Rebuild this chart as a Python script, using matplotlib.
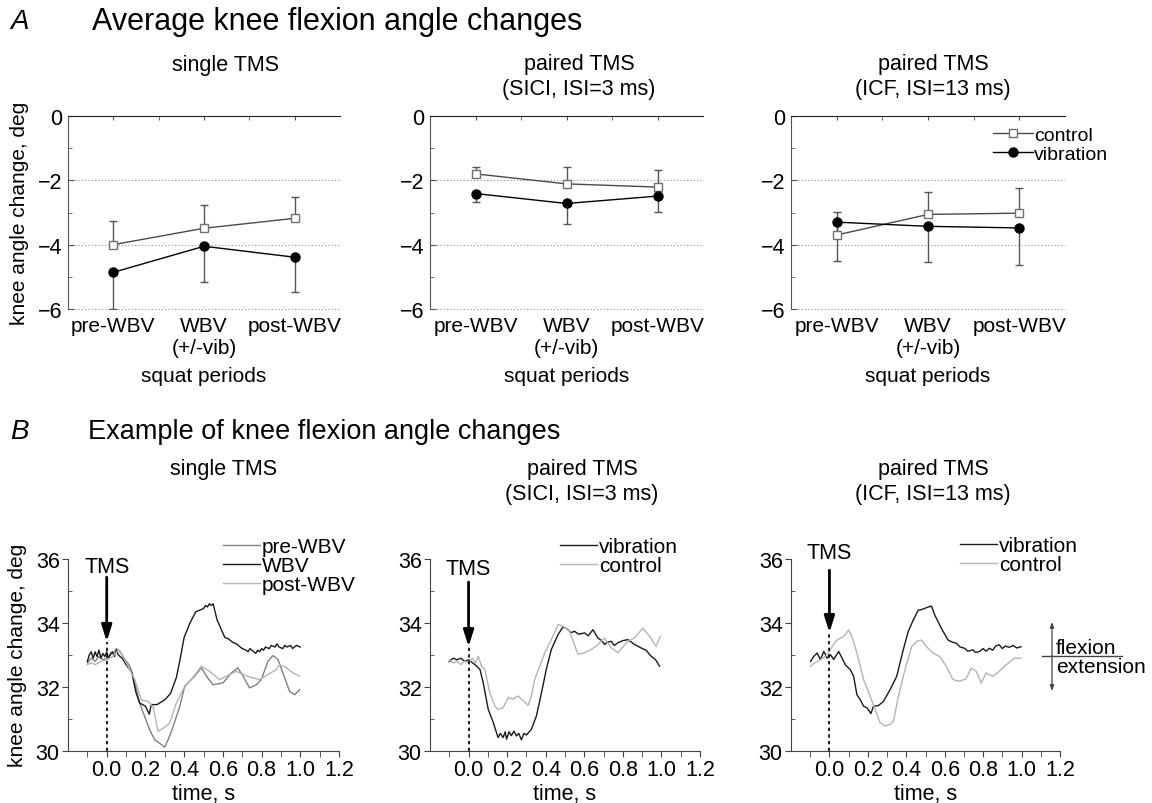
import numpy as np
import matplotlib
matplotlib.use('Agg')
import matplotlib.pyplot as plt
from matplotlib.lines import Line2D
from matplotlib.ticker import FormatStrFormatter

plt.rcParams['font.family'] = ['Liberation Sans', 'DejaVu Sans']
plt.rcParams['axes.unicode_minus'] = True

# ---------------- data: panel A (means and one-sided SD) ----------------
periods = ['pre-WBV', 'WBV\n(+/-vib)', 'post-WBV']
a_titles = ['single TMS', 'paired TMS\n(SICI, ISI=3 ms)', 'paired TMS\n(ICF, ISI=13 ms)']

single_ctrl = [-4.00, -3.49, -3.18]
single_ctrl_err = [0.75, 0.71, 0.65]
single_vib = [-4.86, -4.05, -4.39]
single_vib_err = [1.14, 1.12, 1.07]

sici_ctrl = [-1.80, -2.11, -2.21]
sici_ctrl_err = [0.23, 0.51, 0.52]
sici_vib = [-2.41, -2.72, -2.49]
sici_vib_err = [0.25, 0.65, 0.48]

icf_ctrl = [-3.70, -3.06, -3.02]
icf_ctrl_err = [0.72, 0.69, 0.78]
icf_vib = [-3.30, -3.43, -3.48]
icf_vib_err = [1.20, 1.12, 1.15]

# ---------------- data: panel B (example traces, time s / angle deg) ----------------
b1_pre = np.array([
    (-0.10, 32.75), (-0.08, 32.9), (-0.06, 32.8), (-0.04, 32.95), (-0.02, 32.85), (0.00, 32.9),
    (0.02, 33.0), (0.04, 33.1), (0.05, 33.2), (0.07, 33.1), (0.09, 32.9), (0.12, 32.65),
    (0.145, 32.13), (0.17, 31.5), (0.196, 31.08), (0.222, 30.66), (0.248, 30.35), (0.274, 30.24),
    (0.299, 30.12), (0.317, 30.35), (0.343, 30.76), (0.377, 31.39), (0.403, 32.02), (0.429, 32.18),
    (0.454, 32.34), (0.489, 32.6), (0.515, 32.34), (0.549, 32.07), (0.601, 32.13), (0.644, 32.44),
    (0.678, 32.6), (0.704, 32.34), (0.738, 31.97), (0.773, 32.07), (0.799, 32.23), (0.833, 32.81),
    (0.859, 32.98), (0.885, 32.86), (0.91, 32.44), (0.945, 31.86), (0.971, 31.76), (0.997, 31.92)])

b1_wbv = np.array([
    (-0.10, 32.8), (-0.09, 33.0), (-0.08, 33.1), (-0.07, 32.9), (-0.06, 33.1), (-0.05, 32.95),
    (-0.04, 33.15), (-0.03, 32.9), (-0.02, 33.05), (-0.01, 32.95), (0.00, 33.1), (0.01, 32.9),
    (0.02, 33.05), (0.03, 33.1), (0.04, 32.95), (0.05, 33.15), (0.06, 33.0), (0.07, 32.95),
    (0.08, 32.9), (0.10, 32.7), (0.13, 32.45), (0.15, 31.85), (0.17, 31.5), (0.20, 31.4),
    (0.22, 31.15), (0.23, 31.45), (0.26, 31.45), (0.30, 31.6), (0.33, 31.8), (0.36, 32.3),
    (0.38, 32.9), (0.40, 33.55), (0.43, 34.0), (0.46, 34.35), (0.48, 34.4), (0.50, 34.45),
    (0.51, 34.55), (0.52, 34.5), (0.53, 34.6), (0.54, 34.55), (0.55, 34.6), (0.57, 34.1),
    (0.61, 33.55), (0.63, 33.5), (0.65, 33.4), (0.67, 33.35), (0.69, 33.25), (0.70, 33.2),
    (0.72, 33.15), (0.73, 33.1), (0.74, 33.2), (0.76, 33.1), (0.77, 33.05), (0.78, 33.15),
    (0.79, 33.1), (0.80, 33.2), (0.81, 33.15), (0.82, 33.25), (0.84, 33.2), (0.85, 33.3),
    (0.87, 33.25), (0.88, 33.35), (0.89, 33.25), (0.91, 33.2), (0.92, 33.3), (0.93, 33.25),
    (0.95, 33.3), (0.96, 33.2), (0.98, 33.3), (1.00, 33.25)])

b1_post = np.array([
    (-0.10, 32.7), (-0.08, 32.75), (-0.06, 32.7), (-0.03, 32.8), (0.00, 32.85), (0.03, 32.95),
    (0.06, 33.15), (0.08, 33.0), (0.11, 32.65), (0.145, 32.23), (0.179, 31.6), (0.213, 31.55),
    (0.239, 31.39), (0.265, 30.61), (0.291, 30.71), (0.325, 30.87), (0.36, 31.5), (0.394, 31.92),
    (0.429, 32.18), (0.463, 32.44), (0.489, 32.65), (0.532, 32.49), (0.583, 32.23), (0.635, 32.39),
    (0.67, 32.49), (0.704, 32.39), (0.738, 32.31), (0.79, 32.23), (0.833, 32.39), (0.876, 32.54),
    (0.893, 32.7), (0.928, 32.6), (0.962, 32.44), (0.997, 32.34)])

b2_vib = np.array([
    (-0.10, 32.8), (-0.08, 32.9), (-0.06, 32.85), (-0.04, 32.9), (-0.02, 32.8), (0.00, 32.85),
    (0.033, 32.7), (0.059, 32.55), (0.076, 32.13), (0.102, 31.3), (0.128, 30.89), (0.153, 30.42),
    (0.165, 30.55), (0.179, 30.42), (0.19, 30.6), (0.197, 30.37), (0.21, 30.6), (0.222, 30.48),
    (0.235, 30.62), (0.248, 30.47), (0.26, 30.55), (0.274, 30.35), (0.287, 30.55), (0.30, 30.5),
    (0.326, 30.68), (0.352, 31.1), (0.378, 31.82), (0.403, 32.55), (0.429, 33.17), (0.464, 33.64),
    (0.49, 33.88), (0.516, 33.79), (0.53, 33.7), (0.55, 33.74), (0.57, 33.65), (0.602, 33.69),
    (0.62, 33.6), (0.645, 33.79), (0.671, 33.53), (0.69, 33.45), (0.705, 33.33), (0.72, 33.4),
    (0.74, 33.43), (0.755, 33.3), (0.774, 33.38), (0.80, 33.45), (0.826, 33.48), (0.845, 33.4),
    (0.86, 33.33), (0.895, 33.22), (0.92, 33.15), (0.947, 32.96), (0.97, 32.85), (0.99, 32.65)])

b2_ctrl = np.array([
    (-0.10, 32.85), (-0.08, 32.75), (-0.06, 32.8), (-0.04, 32.7), (-0.02, 32.8), (0.00, 32.75),
    (0.02, 32.9), (0.035, 32.75), (0.05, 32.96), (0.067, 32.65), (0.084, 32.55), (0.11, 31.82),
    (0.136, 31.41), (0.153, 31.3), (0.179, 31.35), (0.205, 31.67), (0.231, 31.62), (0.257, 31.72),
    (0.283, 31.57), (0.309, 31.43), (0.326, 31.72), (0.343, 32.24), (0.395, 33.07), (0.429, 33.48),
    (0.464, 33.95), (0.49, 33.9), (0.524, 33.74), (0.567, 33.02), (0.602, 33.07), (0.636, 33.17),
    (0.671, 33.33), (0.705, 33.53), (0.74, 33.22), (0.774, 33.07), (0.826, 33.43), (0.86, 33.53),
    (0.903, 33.84), (0.938, 33.59), (0.972, 33.27), (0.995, 33.59)])

b3_vib = np.array([
    (-0.098, 32.8), (-0.081, 32.96), (-0.064, 33.06), (-0.047, 32.86), (-0.029, 33.11), (-0.012, 32.9),
    (0.005, 33.01), (0.022, 32.86), (0.048, 33.11), (0.066, 32.9), (0.083, 32.69), (0.109, 32.54),
    (0.126, 32.33), (0.143, 31.76), (0.16, 31.61), (0.178, 31.4), (0.195, 31.35), (0.216, 31.17),
    (0.229, 31.4), (0.255, 31.42), (0.281, 31.55), (0.316, 31.92), (0.35, 32.33), (0.384, 33.16),
    (0.41, 33.73), (0.436, 34.09), (0.462, 34.4), (0.48, 34.42), (0.497, 34.46), (0.515, 34.5),
    (0.531, 34.53), (0.548, 34.25), (0.583, 33.83), (0.617, 33.47), (0.64, 33.4), (0.66, 33.37),
    (0.68, 33.25), (0.703, 33.21), (0.72, 33.12), (0.747, 33.16), (0.76, 33.08), (0.781, 33.11),
    (0.80, 33.2), (0.815, 33.12), (0.833, 33.21), (0.85, 33.15), (0.865, 33.28), (0.884, 33.32),
    (0.9, 33.2), (0.915, 33.28), (0.936, 33.24), (0.955, 33.3), (0.975, 33.22), (0.997, 33.26)])

b3_ctrl = np.array([
    (-0.098, 32.64), (-0.081, 32.74), (-0.047, 32.85), (-0.012, 33.0), (0.014, 33.26), (0.04, 33.47),
    (0.074, 33.58), (0.10, 33.78), (0.117, 33.58), (0.143, 33.06), (0.178, 32.23), (0.212, 31.71),
    (0.238, 31.3), (0.264, 30.88), (0.29, 30.78), (0.316, 30.83), (0.333, 30.93), (0.359, 31.71),
    (0.393, 32.54), (0.428, 33.26), (0.453, 33.42), (0.479, 33.47), (0.505, 33.26), (0.54, 33.06),
    (0.574, 32.95), (0.609, 32.64), (0.643, 32.23), (0.678, 32.18), (0.712, 32.26), (0.738, 32.59),
    (0.764, 32.49), (0.79, 32.12), (0.816, 32.44), (0.85, 32.33), (0.884, 32.49), (0.919, 32.69),
    (0.962, 32.9), (0.997, 32.9)])

# TMS arrow (start, tip) and label height per panel, in degrees
tms_arrow = [(35.43, 33.42), (35.28, 33.26), (35.65, 33.70)]
tms_label = [35.78, 35.71, 36.21]

# ---------------- figure ----------------
W, H = 1152, 804
fig = plt.figure(figsize=(W / 100, H / 100), dpi=100)


def fx(x):
    return x / W


def fy(y):
    return 1 - y / H


# headers
fig.text(fx(10), fy(22), 'A', style='italic', fontsize=20, va='center')
fig.text(fx(92), fy(22), 'Average knee flexion angle changes', fontsize=22, va='center')
fig.text(fx(10), fy(432), 'B', style='italic', fontsize=20, va='center')
fig.text(fx(88), fy(432), 'Example of knee flexion angle changes', fontsize=19.5, va='center')

LIGHT = '#b4b4b4'
MID = '#808080'
DARK = '#1a1a1a'

# ---------------- panel A ----------------
a_left = [68, 430, 791]
a_right = [340, 703, 1065]
a_title_x = [226, 579, 933]
a_data = [(single_ctrl, single_ctrl_err, single_vib, single_vib_err),
          (sici_ctrl, sici_ctrl_err, sici_vib, sici_vib_err),
          (icf_ctrl, icf_ctrl_err, icf_vib, icf_vib_err)]
xpos = np.arange(len(periods))

for i in range(3):
    ax = fig.add_axes([fx(a_left[i]), fy(310), (a_right[i] - a_left[i]) / W, (310 - 117) / H])
    ctrl, ctrl_err, vib, vib_err = a_data[i]
    ax.set_xlim(-0.5, 2.5)
    ax.set_ylim(-6, 0)
    for yv in (-2, -4, -6):
        ax.axhline(yv, color='#8c8c8c', lw=0.8, ls=(0, (1, 2)), clip_on=False, zorder=0)
    ax.errorbar(xpos, ctrl, yerr=[np.zeros(3), ctrl_err], fmt='none', ecolor='#555555',
                elinewidth=1, capsize=3, capthick=1, zorder=2)
    ax.errorbar(xpos, vib, yerr=[vib_err, np.zeros(3)], fmt='none', ecolor='#555555',
                elinewidth=1, capsize=3, capthick=1, zorder=2)
    lc, = ax.plot(xpos, ctrl, color='#4a4a4a', lw=1, marker='s', ms=6, mfc='white',
                  mec='#707070', mew=1, label='control', zorder=3)
    lv, = ax.plot(xpos, vib, color='black', lw=1, marker='o', ms=6.5, mfc='black',
                  mec='black', label='vibration', zorder=3)
    for s in ('right', 'bottom'):
        ax.spines[s].set_visible(False)
    ax.spines['top'].set_color('#222222')
    ax.spines['left'].set_color('#555555')
    ax.set_yticks([0, -2, -4, -6])
    ax.set_yticks([-1, -3, -5], minor=True)
    ax.tick_params(axis='y', which='both', direction='in', labelsize=15.5, pad=4, color='#555555')
    ax.tick_params(axis='y', which='major', length=4)
    ax.tick_params(axis='y', which='minor', length=3)
    ax.set_xticks(xpos)
    ax.set_xticklabels(periods)
    ax.set_xticks([0.5, 1.5], minor=True)
    ax.tick_params(axis='x', which='both', top=True, bottom=False, labelbottom=True,
                   direction='in', length=3, labelsize=15, pad=5, color='#555555')
    fig.text(fx(a_title_x[i]), fy(65) if i == 0 else fy(77), a_titles[i], ha='center',
             va='center', fontsize=15.5, linespacing=1.25)
    fig.text(fx((a_left[i] + a_right[i]) / 2), fy(377), 'squat periods', ha='center',
             va='center', fontsize=15)
    if i == 2:
        ax.legend(handles=[lc, lv], loc='upper left', bbox_to_anchor=(fx(993), fy(127)),
                  bbox_transform=fig.transFigure, frameon=False, fontsize=14,
                  handlelength=2.05, handletextpad=0.05, borderpad=0, borderaxespad=0,
                  labelspacing=0.08)

fig.text(fx(20), fy(213), 'knee angle change, deg', rotation=90, ha='center', va='center',
         fontsize=15)

# ---------------- panel B ----------------
b_left = [68, 430, 791]
b_right = [339, 700, 1060]
b_title_x = [224, 582, 933]
b_titles = ['single TMS', 'paired TMS\n(SICI, ISI=3 ms)', 'paired TMS\n(ICF, ISI=13 ms)']
b_series = [
    [(b1_pre, MID, 'pre-WBV'), (b1_wbv, DARK, 'WBV'), (b1_post, LIGHT, 'post-WBV')],
    [(b2_vib, DARK, 'vibration'), (b2_ctrl, LIGHT, 'control')],
    [(b3_vib, DARK, 'vibration'), (b3_ctrl, LIGHT, 'control')],
]
b_leg = [(223, 538), (560, 538), (960, 537)]

for i in range(3):
    ax = fig.add_axes([fx(b_left[i]), fy(752), (b_right[i] - b_left[i]) / W, (752 - 560) / H])
    ax.set_xlim(-0.2, 1.2)
    ax.set_ylim(30, 36)
    handles = []
    for arr, col, lab in b_series[i]:
        ln, = ax.plot(arr[:, 0], arr[:, 1], color=col, lw=1.0, label=lab)
        handles.append(ln)
    start, tip = tms_arrow[i]
    ax.vlines(0, 30, tip, colors='black', linestyles=(0, (2, 2)), lw=1.2)
    ax.annotate('', xy=(0, tip), xytext=(0, start),
                arrowprops=dict(arrowstyle='-|>,head_width=0.22,head_length=0.7',
                                color='black', lw=2.0, mutation_scale=14,
                                shrinkA=0, shrinkB=0), annotation_clip=False)
    ax.text(0, tms_label[i], 'TMS', ha='center', va='center', fontsize=15.5, clip_on=False)
    for s in ('right', 'top'):
        ax.spines[s].set_visible(False)
    for s in ('left', 'bottom'):
        ax.spines[s].set_color('#444444')
    ax.set_xticks(np.round(np.arange(0, 1.21, 0.2), 1))
    ax.set_xticks(np.round(np.arange(-0.1, 1.21, 0.2), 1), minor=True)
    ax.xaxis.set_major_formatter(FormatStrFormatter('%.1f'))
    ax.set_yticks([30, 32, 34, 36])
    ax.set_yticks([31, 33, 35], minor=True)
    ax.tick_params(axis='x', which='both', direction='out', length=4, labelsize=15.5,
                   pad=2, color='#444444')
    ax.tick_params(axis='y', which='major', direction='out', length=4, labelsize=15.5,
                   pad=2, color='#444444')
    ax.tick_params(axis='y', which='minor', direction='in', length=3, color='#444444')
    fig.text(fx(b_title_x[i]), fy(470) if i == 0 else fy(482), b_titles[i], ha='center',
             va='center', fontsize=15.5, linespacing=1.25)
    fig.text(fx((b_left[i] + b_right[i]) / 2), fy(795), 'time, s', ha='center',
             va='center', fontsize=15.5)
    lx, ly = b_leg[i]
    ax.legend(handles=handles, loc='upper left', bbox_to_anchor=(fx(lx), fy(ly)),
              bbox_transform=fig.transFigure, frameon=False, fontsize=15,
              handlelength=1.78, handletextpad=0.1, borderpad=0, borderaxespad=0,
              labelspacing=0.0)
    if i == 2:
        axB3 = ax

fig.text(fx(18), fy(655), 'knee angle change, deg', rotation=90, ha='center', va='center',
         fontsize=15)

# flexion / extension key
fig.add_artist(Line2D([fx(1042), fx(1122)], [fy(657), fy(657)], color='#444444', lw=1))
axB3.annotate('', xy=(fx(1052), fy(623)), xytext=(fx(1052), fy(657)),
              xycoords='figure fraction', textcoords='figure fraction',
              arrowprops=dict(arrowstyle='-|>,head_width=0.15,head_length=0.4',
                              color='#444444', lw=0.9, mutation_scale=8,
                              shrinkA=0, shrinkB=0), annotation_clip=False)
axB3.annotate('', xy=(fx(1052), fy(692)), xytext=(fx(1052), fy(657)),
              xycoords='figure fraction', textcoords='figure fraction',
              arrowprops=dict(arrowstyle='-|>,head_width=0.15,head_length=0.4',
                              color='#444444', lw=0.9, mutation_scale=8,
                              shrinkA=0, shrinkB=0), annotation_clip=False)
fig.text(fx(1056), fy(654), 'flexion', va='baseline', ha='left', fontsize=15)
fig.text(fx(1056), fy(658), 'extension', va='top', ha='left', fontsize=15)

fig.savefig('out.png', dpi=100)
